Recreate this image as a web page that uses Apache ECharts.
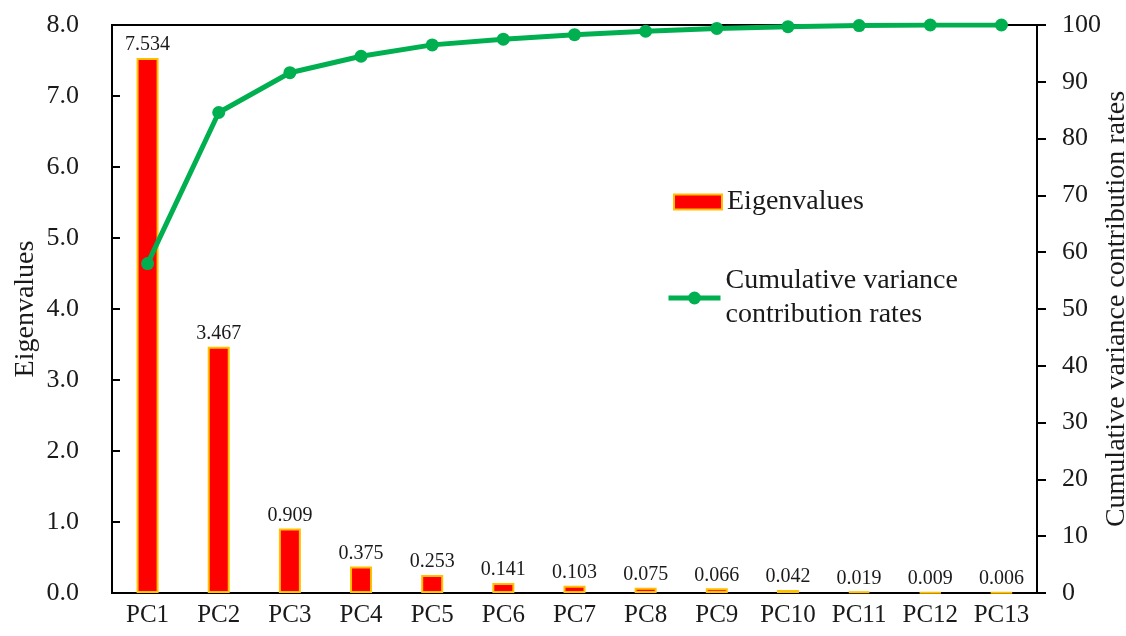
<!DOCTYPE html>
<html>
<head>
<meta charset="utf-8">
<script src="https://cdn.jsdelivr.net/npm/echarts@6/dist/echarts.min.js"></script>
<style>
  html, body { margin: 0; padding: 0; background: #fff; }
  #chart { width: 1126px; height: 636px; }
</style>
</head>
<body>
<div id="chart"></div>
<script>
// Principal components and their statistics
const components = ['PC1', 'PC2', 'PC3', 'PC4', 'PC5', 'PC6', 'PC7', 'PC8', 'PC9', 'PC10', 'PC11', 'PC12', 'PC13'];
const eigenvalues = [7.534, 3.467, 0.909, 0.375, 0.253, 0.141, 0.103, 0.075, 0.066, 0.042, 0.019, 0.009, 0.006];
const cumulativeRates = [58.0, 84.6, 91.6, 94.5, 96.5, 97.5, 98.3, 98.9, 99.4, 99.7, 99.9, 100.0, 100.0];

const serif = "'Liberation Serif', 'Times New Roman', serif";
const ink = '#1a1a1a';

const chart = echarts.init(document.getElementById('chart'));
chart.setOption({
  animation: false,
  backgroundColor: '#fff',
  textStyle: { fontFamily: serif, color: ink },
  grid: {
    left: 112, right: 89, top: 25, bottom: 43,
    outerBoundsMode: 'none',
    containLabel: false,
    show: true, borderColor: '#000', borderWidth: 2, backgroundColor: 'transparent'
  },
  legend: [
    {
      data: ['Eigenvalues'],
      icon: 'rect',
      left: 668, top: 183,
      itemWidth: 48, itemHeight: 15,
      textStyle: { fontFamily: serif, fontSize: 28, color: ink }
    },
    {
      data: ['Cumulative variance contribution rates'],
      left: 661, top: 242,
      itemWidth: 52, itemHeight: 16,
      lineStyle: { width: 5 },
      formatter: () => 'Cumulative variance\ncontribution rates',
      textStyle: { fontFamily: serif, fontSize: 28, color: ink, lineHeight: 34, padding: [34, 0, 0, 0] }
    }
  ],
  xAxis: {
    type: 'category',
    data: components,
    axisLine: { lineStyle: { color: '#000', width: 2 } },
    axisTick: { inside: true, length: 8, lineStyle: { color: '#000', width: 2 } },
    axisLabel: { interval: 0, fontFamily: serif, fontSize: 25, color: ink, margin: 10 }
  },
  yAxis: [
    {
      type: 'value',
      min: 0, max: 8, interval: 1,
      name: 'Eigenvalues',
      nameLocation: 'middle',
      nameMoveOverlap: false,
      nameGap: 72,
      nameTextStyle: { fontFamily: serif, fontSize: 28, color: ink },
      axisLine: { show: true, lineStyle: { color: '#000', width: 2 } },
      axisTick: { show: true, inside: true, length: 8, lineStyle: { color: '#000', width: 2 } },
      axisLabel: { fontFamily: serif, fontSize: 26, color: ink, margin: 33, formatter: v => v.toFixed(1) },
      splitLine: { show: false }
    },
    {
      type: 'value',
      min: 0, max: 100, interval: 10,
      position: 'right',
      name: 'Cumulative variance contribution rates',
      nameLocation: 'middle',
      nameMoveOverlap: false,
      nameGap: 66,
      nameTextStyle: { fontFamily: serif, fontSize: 28, color: ink },
      axisLine: { show: true, lineStyle: { color: '#000', width: 2 } },
      axisTick: { show: true, inside: false, length: 9, lineStyle: { color: '#000', width: 2 } },
      axisLabel: { fontFamily: serif, fontSize: 26, color: ink, margin: 25 },
      splitLine: { show: false }
    }
  ],
  series: [
    {
      name: 'Eigenvalues',
      type: 'bar',
      yAxisIndex: 0,
      data: eigenvalues,
      barWidth: 22,
      itemStyle: { color: '#ff0000', borderColor: '#ffc000', borderWidth: 2 },
      label: {
        show: true, position: 'top', distance: 3,
        fontFamily: serif, fontSize: 20, color: ink,
        formatter: p => p.value.toFixed(3)
      }
    },
    {
      name: 'Cumulative variance contribution rates',
      type: 'line',
      yAxisIndex: 1,
      data: cumulativeRates,
      symbol: 'circle',
      symbolSize: 13,
      lineStyle: { color: '#00b050', width: 5 },
      itemStyle: { color: '#00b050' }
    }
  ]
});
</script>
</body>
</html>
